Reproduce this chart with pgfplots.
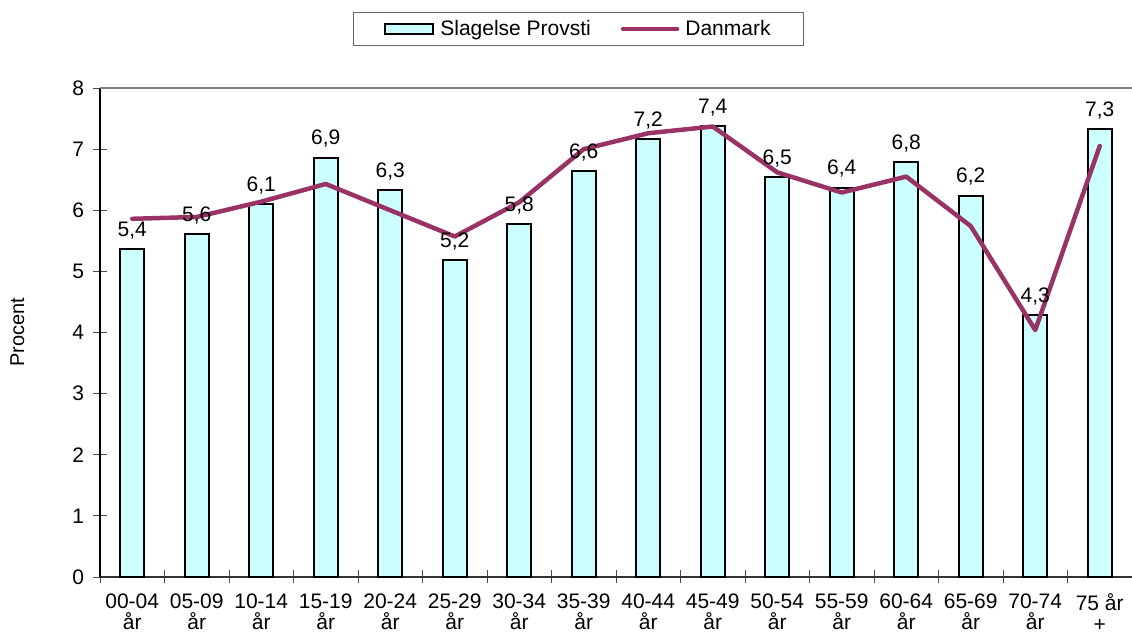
\documentclass[border=0pt]{standalone}
\usepackage{pgfplots}
\pgfplotsset{compat=1.18}
\usepackage{fontspec}
\setmainfont{Liberation Sans}
\definecolor{barfill}{HTML}{CCFFFF}
\definecolor{plum}{HTML}{993366}
\newcommand{\cf}{\fontsize{21pt}{21pt}\selectfont}
\begin{document}
\begin{tikzpicture}
\path[use as bounding box] (0,0) rectangle (1132pt,636pt);
\begin{axis}[
  at={(100pt,59pt)}, anchor=south west,
  scale only axis, width=1032pt, height=489pt,
  xmin=-0.5, xmax=15.5, ymin=0, ymax=8,
  clip=false,
  ytick={0,...,8},
  xtick={-0.5,0.5,...,15.5},
  x tick label as interval,
  xticklabels={{00-04\\år},{05-09\\år},{10-14\\år},{15-19\\år},{20-24\\år},{25-29\\år},{30-34\\år},{35-39\\år},{40-44\\år},{45-49\\år},{50-54\\år},{55-59\\år},{60-64\\år},{65-69\\år},{70-74\\år},{75 år\\+}},
  xticklabel style={align=center, font=\cf, yshift=-7pt},
  yticklabel style={font=\cf, xshift=-6pt},
  /pgf/number format/assume math mode=true,
  tick align=center, major tick length=13pt,
  tick style={black!70, line width=0.8pt},
  axis x line*=bottom, axis y line*=left,
  x axis line style={-, black!80, line width=1.2pt},
  y axis line style={-, black, line width=1.5pt},
  ylabel={Procent},
  ylabel style={font=\fontsize{20pt}{22pt}\selectfont, at={(axis description cs:-0.08,0.5)}, anchor=center},
  legend columns=2,
  legend style={at={(axis description cs:0.245,1.155)}, anchor=north west,
    draw=black!60, line width=1pt, font=\cf, inner xsep=31pt, inner ysep=6pt,
    /tikz/every odd column/.append style={column sep=4pt},
    /tikz/every even column/.append style={column sep=28pt}},
]
\draw[black!50, line width=1.5pt] (rel axis cs:0,1) -- (rel axis cs:1,1);
\addplot[ybar, bar shift=0pt, bar width=24pt, fill=barfill, draw=black, line width=2pt,
  nodes near coords={\pgfmathprintnumber[fixed,fixed zerofill,precision=1,use comma,assume math mode=true]{\pgfplotspointmeta}},
  every node near coord/.append style={font=\cf, black, inner sep=9pt},
  legend image code/.code={\draw[fill=barfill, draw=black, line width=2pt] (0pt,-5pt) rectangle (48pt,5pt);}]
  coordinates {
  (0,5.37) (1,5.61) (2,6.10) (3,6.86) (4,6.33) (5,5.19) (6,5.78) (7,6.64)
  (8,7.17) (9,7.38) (10,6.54) (11,6.37) (12,6.79) (13,6.24) (14,4.29) (15,7.33)};
\addlegendentry{Slagelse Provsti}
\addplot[plum, line width=4.5pt, sharp plot, mark=none, line join=round, line cap=round,
  legend image code/.code={\draw[plum, line width=4.5pt, line cap=round] (0pt,0pt) -- (54pt,0pt);}]
  coordinates {
  (0,5.86) (1,5.89) (2,6.14) (3,6.43) (4,6.00) (5,5.57) (6,6.13) (7,7.00)
  (8,7.26) (9,7.37) (10,6.62) (11,6.29) (12,6.55) (13,5.74) (14,4.04) (15,7.05)};
\addlegendentry{Danmark}
\end{axis}
\end{tikzpicture}
\end{document}
